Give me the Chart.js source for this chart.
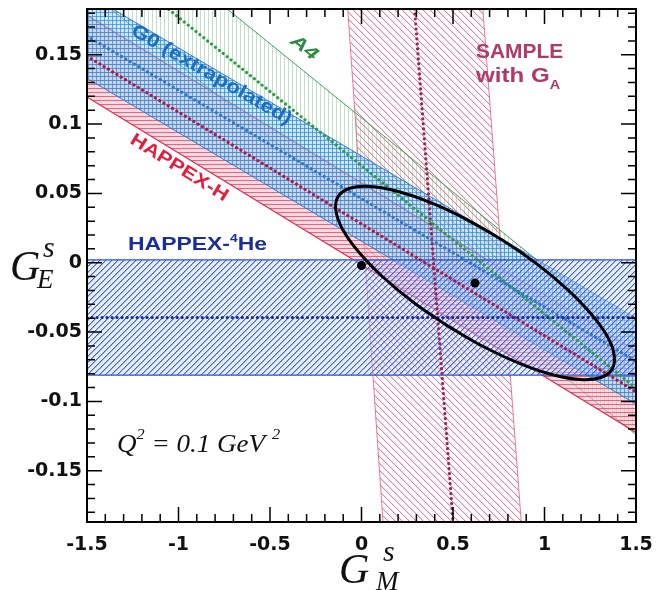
<!DOCTYPE html>
<html><head><meta charset="utf-8">
<script src="https://cdn.jsdelivr.net/npm/chart.js@4/dist/chart.umd.min.js"></script>
<style>html,body{margin:0;padding:0;background:#fff}#wrap{width:666px;height:590px}</style>
</head><body><div id="wrap"><canvas id="c" width="666" height="590"></canvas></div>
<script>
// ---- data ----
const xEnds = [-1.5, 1.5];            // G_M^s where the sloped bands are evaluated
const yEnds = [0.183, -0.187];        // G_E^s where the SAMPLE band is evaluated
const he4Upper = [0.002, 0.002];
const he4Center = [-0.0395, -0.0395];
const he4Lower = [-0.081, -0.081];
const happexHUpper = [0.1785, -0.0635];
const happexHCenter = [0.149, -0.093];
const happexHLower = [0.1195, -0.1225];
const g0Upper = [0.194, -0.040];
const g0Center = [0.1635, -0.071];
const g0Lower = [0.133, -0.102];
const a4Upper = [0.265, -0.056];
const a4Center = [0.2305, -0.0905];
const a4Lower = [0.197, -0.124];
const sampleLeft = [-0.075, 0.1175];
const sampleCenter = [0.29, 0.50];
const sampleRight = [0.663, 0.873];
// 1-sigma contour of the combined fit, traced around from the picture
const ellipseGM = [0.472, 0.283, 0.117, -0.014, -0.102, -0.140, -0.128, -0.064, 0.046, 0.196, 0.375, 0.570, 0.769, 0.958, 1.123, 1.254, 1.343, 1.381, 1.368, 1.304, 1.194, 1.044, 0.866, 0.670, 0.472];
const ellipseGE = [-0.0457, -0.0285, -0.0103, 0.0075, 0.0238, 0.0376, 0.0477, 0.0537, 0.0550, 0.0515, 0.0435, 0.0315, 0.0164, -0.0008, -0.0190, -0.0368, -0.0531, -0.0669, -0.0770, -0.0830, -0.0842, -0.0808, -0.0728, -0.0608, -0.0457];
const pointsGM = [0, 0.62];
const pointsGE = [-0.002, -0.0147];
const xTicks = [-1.5, -1, -0.5, 0, 0.5, 1, 1.5];
const yTicks = [-0.15, -0.1, -0.05, 0, 0.05, 0.1, 0.15];
const xRange = [-1.5, 1.5];
const yRange = [-0.187, 0.183];

// ---- helpers ----
const canvas = document.getElementById('c');
const mainCtx = canvas.getContext('2d');
function makePattern(w, h, draw) {
  const c = document.createElement('canvas'); c.width = w; c.height = h;
  const g = c.getContext('2d'); draw(g, w, h);
  return mainCtx.createPattern(c, 'repeat');
}
// "/" hatching, crisp pixels on a faint blue tint
const patHe = makePattern(6, 6, (g, w, h) => {
  g.fillStyle = 'rgba(200,215,250,0.45)'; g.fillRect(0, 0, w, h);
  for (let i = 0; i < w; i++) {
    g.fillStyle = 'rgb(62,98,218)'; g.fillRect(i, h - 1 - i, 1, 1);
    g.fillStyle = 'rgba(62,98,218,0.4)'; g.fillRect((i + 1) % w, h - 1 - i, 1, 1);
  }
});
// "\" hatching
const patSample = makePattern(7, 7, (g, w, h) => {
  for (let i = 0; i < w; i++) {
    g.fillStyle = 'rgba(232,105,145,0.85)'; g.fillRect(i, i, 1, 1);
    g.fillStyle = 'rgba(232,105,145,0.25)'; g.fillRect((i + 1) % w, i, 1, 1);
  }
});
const patG0 = makePattern(4, 4, (g) => {
  g.fillStyle = 'rgba(150,210,245,0.5)'; g.fillRect(0, 0, 4, 4);
  g.fillStyle = 'rgba(40,130,215,0.65)'; g.fillRect(0, 0, 4, 1); g.fillRect(0, 0, 1, 4);
});
const patH = makePattern(4, 4, (g) => {
  g.fillStyle = 'rgba(248,185,200,0.55)'; g.fillRect(0, 0, 4, 4);
  g.fillStyle = 'rgba(228,60,95,0.75)'; g.fillRect(0, 0, 4, 1);
});
const patA4 = makePattern(4, 4, (g) => {
  g.fillStyle = 'rgba(90,175,105,0.38)'; g.fillRect(0, 0, 1, 4);
});

const pt = (x, y) => ({x, y});
function bandPoly(up, lo) {
  return [pt(xEnds[0], up[0]), pt(xEnds[1], up[1]), pt(xEnds[1], lo[1]), pt(xEnds[0], lo[0]), pt(xEnds[0], up[0])];
}
function lineOf(vals) { return [pt(xEnds[0], vals[0]), pt(xEnds[1], vals[1])]; }
const base = {showLine: true, pointRadius: 0, pointHoverRadius: 0, clip: 0, tension: 0};
function poly(data, pat, border, bw, order) {
  return {...base, data, fill: 'shape', backgroundColor: pat, borderColor: border, borderWidth: bw, order};
}
function dotted(data, color, order) {
  return {...base, data, fill: false, borderColor: color, borderWidth: 3.2, borderDash: [0.01, 5], borderCapStyle: 'round', order};
}

const samplePoly = [pt(sampleLeft[0], yEnds[0]), pt(sampleLeft[1], yEnds[1]), pt(sampleRight[1], yEnds[1]), pt(sampleRight[0], yEnds[0]), pt(sampleLeft[0], yEnds[0])];
const sampleMid = [pt(sampleCenter[0], yEnds[0]), pt(sampleCenter[1], yEnds[1])];

const datasets = [
  poly(samplePoly, patSample, 'rgba(228,105,145,0.9)', 1, 20),
  poly(bandPoly(a4Upper, a4Lower), patA4, 'rgba(50,150,80,0.9)', 1, 19),
  poly(bandPoly(happexHUpper, happexHLower), patH, 'rgba(225,30,70,0.9)', 1.2, 18),
  poly(bandPoly(g0Upper, g0Lower), patG0, 'rgba(30,110,200,0.85)', 1, 17),
  poly(bandPoly(he4Upper, he4Lower), patHe, 'rgb(45,80,200)', 1.3, 16),
  dotted(sampleMid, '#a3204e', 10),
  dotted(lineOf(a4Center), '#2f9a48', 9),
  dotted(lineOf(g0Center), '#2c78c4', 8),
  dotted(lineOf(happexHCenter), '#b01840', 7),
  dotted(lineOf(he4Center), '#15259c', 6),
  {...base, tension: 0.4, data: ellipseGM.map((x, i) => pt(x, ellipseGE[i])), fill: false, borderColor: '#000', borderWidth: 3, borderJoinStyle: 'round', order: 2},
  {data: pointsGM.map((x, i) => pt(x, pointsGE[i])), showLine: false, pointRadius: 4.5, pointHoverRadius: 4.5, backgroundColor: '#000', borderWidth: 0, order: 1}
];

// rich text: pieces [{t, s (size factor), dy (em shift)}]
function rich(ctx, pieces, o) {
  ctx.save();
  const fontOf = s => `${o.style || 'normal'} ${o.weight || 'bold'} ${s}px ${o.family}`;
  let total = 0;
  const ms = pieces.map(p => {
    const s = o.size * (p.s || 1); ctx.font = fontOf(s);
    const w = ctx.measureText(p.t).width; total += w; return {p, s, w};
  });
  const sx = o.width ? o.width / total : 1;
  ctx.translate(o.x, o.y);
  if (o.angle) ctx.rotate(o.angle * Math.PI / 180);
  ctx.scale(sx, 1);
  let cx = o.align === 'center' ? -total / 2 : 0;
  const y0 = o.vcenter ? o.size * 0.36 : 0;
  ctx.fillStyle = o.color; ctx.textBaseline = 'alphabetic'; ctx.textAlign = 'left';
  for (const m of ms) {
    ctx.font = fontOf(m.s);
    ctx.fillText(m.p.t, cx, y0 + (m.p.dy || 0) * o.size);
    cx += m.w;
  }
  ctx.restore();
}

const SANS = "'Liberation Sans', Arial, sans-serif";
const SERIF = "'Liberation Serif', 'Times New Roman', serif";

const deco = {
  id: 'deco',
  afterDatasetsDraw(chart) {
    const {ctx, chartArea: a, scales: {x, y}} = chart;
    const X = v => x.getPixelForValue(v), Y = v => y.getPixelForValue(v);
    ctx.save();
    ctx.beginPath(); ctx.rect(a.left, a.top, a.right - a.left, a.bottom - a.top); ctx.clip();
    rich(ctx, [{t: 'G0 (extrapolated)'}], {x: X(-0.816), y: Y(0.1364), angle: 30, size: 19, family: SANS, color: '#1b6fc0', width: 182, align: 'center', vcenter: true});
    rich(ctx, [{t: 'A4'}], {x: X(-0.309), y: Y(0.1558), angle: 38, size: 18, family: SANS, style: 'italic', color: '#2e8b46', width: 30, align: 'center', vcenter: true});
    rich(ctx, [{t: 'HAPPEX-H'}], {x: X(-0.992), y: Y(0.0693), angle: 32, size: 18, family: SANS, color: '#e51d3c', width: 112, align: 'center', vcenter: true});
    rich(ctx, [{t: 'HAPPEX-'}, {t: '4', s: 0.6, dy: -0.45}, {t: 'He'}], {x: X(-1.276), y: Y(0.0094), size: 18, family: SANS, color: '#1a2d9c', width: 139});
    rich(ctx, [{t: 'SAMPLE'}], {x: X(0.626), y: Y(0.148), size: 21, family: SANS, color: '#b3386a', width: 87});
    rich(ctx, [{t: 'with G'}, {t: 'A', s: 0.6, dy: 0.3}], {x: X(0.626), y: Y(0.130), size: 21, family: SANS, color: '#b3386a', width: 84});
    rich(ctx, [{t: 'Q'}, {t: '2', s: 0.6, dy: -0.5}, {t: ' = 0.1 GeV '}, {t: '2', s: 0.6, dy: -0.5}], {x: X(-1.336), y: Y(-0.1364), size: 26, family: SERIF, style: 'italic', weight: 'normal', color: '#111', width: 163});
    ctx.restore();

    // frame and inward ticks on all four sides
    ctx.save();
    ctx.strokeStyle = '#000';
    ctx.lineWidth = 1.5;
    ctx.beginPath();
    for (let i = -15; i <= 15; i++) {
      const px = X(i / 10), len = i % 5 === 0 ? 15 : 8;
      ctx.moveTo(px, a.bottom); ctx.lineTo(px, a.bottom - len);
      ctx.moveTo(px, a.top); ctx.lineTo(px, a.top + len);
    }
    for (let i = -18; i <= 18; i++) {
      const v = i / 100; if (v < y.min || v > y.max) continue;
      const py = Y(v), len = i % 5 === 0 ? 15 : 8;
      ctx.moveTo(a.left, py); ctx.lineTo(a.left + len, py);
      ctx.moveTo(a.right, py); ctx.lineTo(a.right - len, py);
    }
    ctx.stroke();
    ctx.lineWidth = 2;
    ctx.strokeRect(a.left, a.top, a.right - a.left, a.bottom - a.top);
    ctx.restore();

    // axis titles
    ctx.save();
    ctx.fillStyle = '#111'; ctx.textBaseline = 'alphabetic';
    ctx.font = `italic 42px ${SERIF}`; ctx.fillText('G', 10, 280);
    ctx.font = `italic 30px ${SERIF}`; ctx.fillText('s', 43, 257);
    ctx.font = `italic 27px ${SERIF}`; ctx.fillText('E', 37, 288);
    ctx.font = `italic 42px ${SERIF}`; ctx.fillText('G', 339, 583);
    ctx.font = `italic 30px ${SERIF}`; ctx.fillText('s', 383, 561);
    ctx.font = `italic 27px ${SERIF}`; ctx.fillText('M', 376, 590);
    ctx.restore();
  }
};

const tickFont = {family: "'DejaVu Sans', sans-serif", size: 19, weight: 'bold'};
const fmt = v => String(+(+v).toFixed(2));

new Chart(canvas, {
  type: 'scatter',
  data: {datasets},
  options: {
    responsive: false, animation: false, events: [],
    layout: {padding: {top: 9, right: 30, left: 0, bottom: 0}},
    plugins: {legend: {display: false}, tooltip: {enabled: false}},
    scales: {
      x: {
        type: 'linear', min: xRange[0], max: xRange[1],
        grid: {display: false, drawTicks: false}, border: {display: false},
        afterBuildTicks: s => { s.ticks = xTicks.map(v => ({value: v})); },
        afterFit: s => { s.height = 68; s.paddingLeft = 0; s.paddingRight = 0; },
        ticks: {font: tickFont, color: '#111', padding: 12, maxRotation: 0, autoSkip: false, callback: fmt}
      },
      y: {
        type: 'linear', min: yRange[0], max: yRange[1],
        grid: {display: false, drawTicks: false}, border: {display: false},
        afterBuildTicks: s => { s.ticks = yTicks.map(v => ({value: v})); },
        afterFit: s => { s.width = 87; s.paddingTop = 0; s.paddingBottom = 0; },
        ticks: {font: tickFont, color: '#111', padding: 5, autoSkip: false, callback: fmt}
      }
    }
  },
  plugins: [deco]
});
</script></body></html>
